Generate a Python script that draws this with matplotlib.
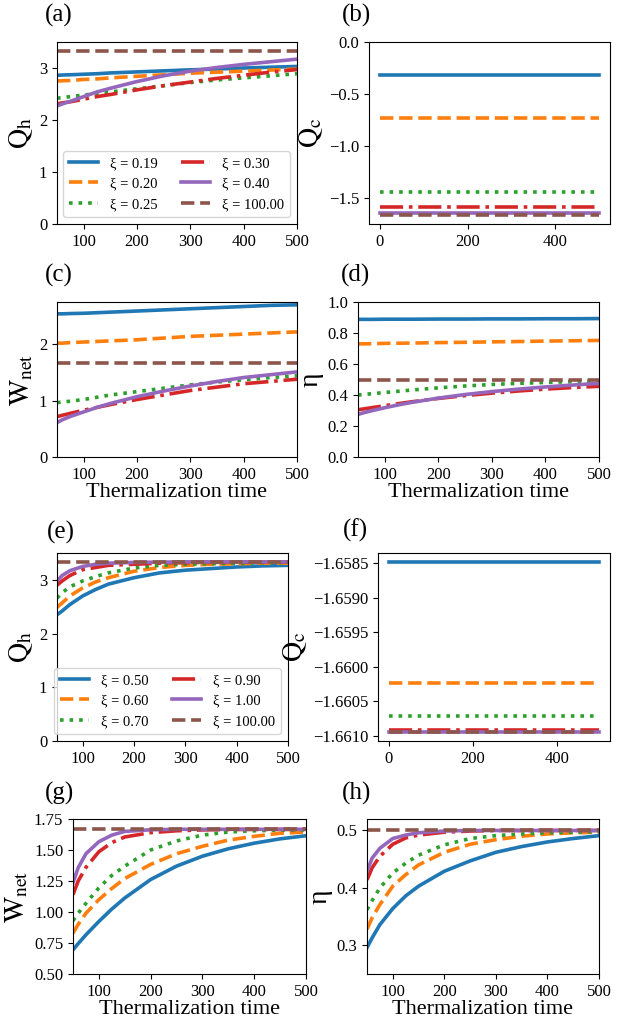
import matplotlib as mpl
mpl.use("Agg")
import matplotlib.pyplot as plt
import numpy as np
from matplotlib.ticker import ScalarFormatter, FormatStrFormatter

mpl.rcParams.update({
    "font.family": "serif",
    "font.serif": ["Liberation Serif", "DejaVu Serif"],
    "mathtext.fontset": "stix",
    "xtick.labelsize": 12,
    "ytick.labelsize": 12,
    "legend.fontsize": 10.5,
})

# thermalization time samples
T = [50, 60, 75, 100, 125, 150, 200, 250, 300, 350, 400, 450, 500]
T_FLAT = [0, 500]

# --- first set: xi = 0.19, 0.20, 0.25, 0.30, 0.40, 100 ---
XI_1 = ["0.19", "0.20", "0.25", "0.30", "0.40", "100.00"]

qh_1 = [
    [2.86, 2.865, 2.87, 2.88, 2.89, 2.905, 2.925, 2.945, 2.965, 2.98, 3.00, 3.015, 3.03],
    [2.75, 2.755, 2.76, 2.78, 2.79, 2.81, 2.84, 2.87, 2.90, 2.92, 2.94, 2.96, 2.98],
    [2.42, 2.43, 2.45, 2.48, 2.51, 2.54, 2.60, 2.66, 2.72, 2.77, 2.81, 2.85, 2.89],
    [2.31, 2.33, 2.35, 2.40, 2.45, 2.49, 2.58, 2.66, 2.73, 2.80, 2.86, 2.92, 2.97],
    [2.27, 2.31, 2.36, 2.45, 2.54, 2.61, 2.74, 2.85, 2.94, 3.01, 3.07, 3.12, 3.17],
    [3.335] * 13,
]
qc_1 = [-0.32, -0.73, -1.445, -1.59, -1.647, -1.66]
wnet_1 = [
    [2.54, 2.54, 2.545, 2.55, 2.56, 2.57, 2.59, 2.61, 2.63, 2.65, 2.67, 2.69, 2.70],
    [2.02, 2.02, 2.03, 2.04, 2.05, 2.06, 2.08, 2.11, 2.14, 2.16, 2.18, 2.20, 2.22],
    [0.965, 0.975, 0.99, 1.02, 1.06, 1.10, 1.16, 1.22, 1.28, 1.33, 1.37, 1.41, 1.44],
    [0.716, 0.74, 0.775, 0.83, 0.88, 0.93, 1.02, 1.10, 1.18, 1.24, 1.30, 1.34, 1.38],
    [0.61, 0.66, 0.72, 0.80, 0.88, 0.95, 1.07, 1.17, 1.26, 1.34, 1.41, 1.46, 1.51],
    [1.665] * 13,
]
eta_1 = [
    [0.888, 0.888, 0.888, 0.889, 0.889, 0.889, 0.890, 0.890, 0.891, 0.891, 0.892, 0.892, 0.893],
    [0.730, 0.730, 0.731, 0.733, 0.734, 0.735, 0.738, 0.740, 0.743, 0.745, 0.748, 0.750, 0.752],
    [0.400, 0.403, 0.408, 0.416, 0.424, 0.432, 0.446, 0.458, 0.468, 0.475, 0.481, 0.486, 0.490],
    [0.305, 0.310, 0.318, 0.331, 0.344, 0.356, 0.378, 0.396, 0.412, 0.426, 0.438, 0.448, 0.456],
    [0.275, 0.285, 0.298, 0.318, 0.336, 0.352, 0.380, 0.403, 0.422, 0.438, 0.452, 0.464, 0.475],
    [0.500] * 13,
]

# --- second set: xi = 0.5, 0.6, 0.7, 0.9, 1.0, 100 ---
XI_2 = ["0.50", "0.60", "0.70", "0.90", "1.00", "100.00"]

qh_2 = [
    [2.35, 2.42, 2.54, 2.70, 2.82, 2.92, 3.04, 3.13, 3.18, 3.21, 3.24, 3.26, 3.27],
    [2.49, 2.57, 2.70, 2.85, 2.96, 3.04, 3.16, 3.23, 3.27, 3.29, 3.30, 3.31, 3.31],
    [2.66, 2.76, 2.87, 2.98, 3.06, 3.13, 3.22, 3.27, 3.29, 3.30, 3.31, 3.32, 3.32],
    [2.90, 2.98, 3.08, 3.19, 3.23, 3.27, 3.29, 3.31, 3.32, 3.325, 3.33, 3.33, 3.33],
    [2.98, 3.08, 3.17, 3.25, 3.29, 3.31, 3.325, 3.33, 3.335, 3.335, 3.335, 3.335, 3.335],
    [3.34] * 13,
]
qc_2 = [-1.65848, -1.66023, -1.66071, -1.66092, -1.66094, -1.66095]
wnet_2 = [
    [0.695, 0.745, 0.816, 0.924, 1.024, 1.113, 1.262, 1.37, 1.45, 1.51, 1.555, 1.59, 1.615],
    [0.83, 0.90, 0.99, 1.10, 1.19, 1.27, 1.384, 1.47, 1.53, 1.58, 1.61, 1.635, 1.645],
    [0.93, 0.99, 1.07, 1.195, 1.295, 1.37, 1.50, 1.573, 1.62, 1.645, 1.655, 1.66, 1.662],
    [1.14, 1.25, 1.36, 1.486, 1.56, 1.605, 1.64, 1.655, 1.662, 1.665, 1.666, 1.666, 1.667],
    [1.235, 1.357, 1.47, 1.567, 1.62, 1.65, 1.663, 1.667, 1.667, 1.667, 1.667, 1.667, 1.667],
    [1.668] * 13,
]
eta_2 = [
    [0.296, 0.313, 0.336, 0.364, 0.386, 0.403, 0.429, 0.447, 0.462, 0.472, 0.480, 0.486, 0.491],
    [0.328, 0.348, 0.371, 0.403, 0.423, 0.440, 0.462, 0.476, 0.484, 0.490, 0.494, 0.496, 0.497],
    [0.362, 0.378, 0.400, 0.426, 0.443, 0.457, 0.475, 0.486, 0.491, 0.494, 0.496, 0.497, 0.498],
    [0.414, 0.435, 0.455, 0.476, 0.487, 0.492, 0.497, 0.499, 0.500, 0.500, 0.500, 0.500, 0.500],
    [0.429, 0.452, 0.469, 0.486, 0.492, 0.496, 0.499, 0.500, 0.500, 0.500, 0.500, 0.500, 0.500],
    [0.501] * 13,
]

STYLES = ["-", "--", ":", "-.", "-", "--"]
COLORS = ["C0", "C1", "C2", "C3", "C4", "C5"]
LW = 2.6

W, H = 638, 1026


def box(l, t, r, b):
    return (l / W, 1 - b / H, (r - l) / W, (b - t) / H)


fig = plt.figure(figsize=(W / 100, H / 100), dpi=100)
ax_a = fig.add_axes(box(57, 42, 297, 224))
ax_b = fig.add_axes(box(369, 42, 610, 224))
ax_c = fig.add_axes(box(57, 302, 297, 457))
ax_d = fig.add_axes(box(358, 302, 599, 457))
ax_e = fig.add_axes(box(57, 553, 288, 741))
ax_f = fig.add_axes(box(378, 553, 610, 741))
ax_g = fig.add_axes(box(73, 819, 306, 974))
ax_h = fig.add_axes(box(367, 819, 599, 974))


def curves(ax, ys, xis=None):
    for i, y in enumerate(ys):
        lab = None if xis is None else "ξ = {}".format(xis[i])
        ax.plot(T, y, ls=STYLES[i], color=COLORS[i], lw=LW, label=lab)
    ax.set_xlim(50, 500)
    ax.set_xticks([100, 200, 300, 400, 500])


def flat(ax, vals):
    for i, v in enumerate(vals):
        ax.plot(T_FLAT, [v, v], ls=STYLES[i], color=COLORS[i], lw=LW)
    ax.set_xticks([0, 200, 400])


curves(ax_a, qh_1, XI_1)
ax_a.set_ylim(0, 3.5)
ax_a.set_yticks([0, 1, 2, 3])
ax_a.legend(ncol=2, loc="lower right", columnspacing=1.6)

flat(ax_b, qc_1)
ax_b.set_ylim(-1.75, 0.0)
ax_b.set_yticks([-1.5, -1.0, -0.5, 0.0])

curves(ax_c, wnet_1)
ax_c.set_ylim(0, 2.75)
ax_c.set_yticks([0, 1, 2])

curves(ax_d, eta_1)
ax_d.set_ylim(0, 1.0)
ax_d.set_yticks(np.arange(0, 1.01, 0.2))

curves(ax_e, qh_2, XI_2)
ax_e.set_ylim(0, 3.5)
ax_e.set_yticks([0, 1, 2, 3])
ax_e.legend(ncol=2, loc="lower right", columnspacing=1.6)

flat(ax_f, qc_2)
ax_f.set_yticks([-1.6585, -1.6590, -1.6595, -1.6600, -1.6605, -1.6610])
ax_f.yaxis.set_major_formatter(ScalarFormatter(useOffset=False))

curves(ax_g, wnet_2)
ax_g.set_ylim(0.5, 1.75)
ax_g.set_yticks([0.5, 0.75, 1.0, 1.25, 1.5, 1.75])
ax_g.yaxis.set_major_formatter(FormatStrFormatter("%.2f"))

curves(ax_h, eta_2)
ax_h.set_ylim(0.25, 0.52)
ax_h.set_yticks([0.3, 0.4, 0.5])

QH = r"$\mathrm{Q_h}$"
QC = r"$\mathrm{Q_c}$"
WN = r"$\mathrm{W_{net}}$"
ETA = "η"
for ax, lab in [(ax_a, QH), (ax_b, QC), (ax_c, WN), (ax_d, ETA),
                (ax_e, QH), (ax_f, QC), (ax_g, WN), (ax_h, ETA)]:
    ax.set_ylabel(lab, fontsize=20, labelpad=3)
for ax in (ax_c, ax_d, ax_g, ax_h):
    ax.set_xlabel("Thermalization time", fontsize=16, labelpad=0)

# panel letters, placed in pixel coords
for lab, x, y in [("(a)", 45, 15), ("(b)", 342, 15), ("(c)", 45, 275),
                  ("(d)", 341, 275), ("(e)", 47, 532), ("(f)", 343, 530),
                  ("(g)", 45, 793), ("(h)", 342, 793)]:
    fig.text(x / W, 1 - y / H, lab, fontsize=18, ha="left", va="center")

plt.savefig("out.png", dpi=100)
